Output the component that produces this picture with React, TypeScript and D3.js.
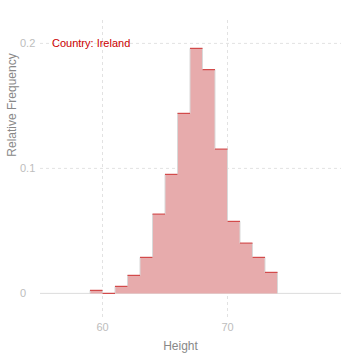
import React from "react";
import * as d3 from "d3";

const binStarts = [59, 60, 61, 62, 63, 64, 65, 66, 67, 68, 69, 70, 71, 72, 73];
const freqs = [0.0024, 0, 0.0056, 0.0144, 0.0288, 0.0634, 0.0952, 0.144, 0.196, 0.179, 0.1154, 0.0576, 0.0402, 0.0288, 0.0168];
const binWidth = 1;
const xTicks = [60, 70];
const yTicks = [0, 0.1, 0.2];
const yTickLabels = ["0", "0.1", "0.2"];
const title = "Country: Ireland";

export default function App() {
  const W = 359, H = 359;
  const x = d3.scaleLinear().domain([55, 79.08]).range([40, 341]);
  const y = d3.scaleLinear().domain([-0.0197, 0.2187]).range([318, 20]);
  const font = "'Liberation Sans', Arial, sans-serif";
  const area = d3
    .area<number>()
    .curve(d3.curveStepAfter)
    .x((_, i) => x(binStarts[0] + i * binWidth))
    .y0(y(0))
    .y1((d) => y(d));
  const areaData = [...freqs, freqs[freqs.length - 1]];
  return (
    <svg width={W} height={H} style={{ position: "absolute", left: 0, top: 0, background: "#fff" }}>
      {/* grid */}
      {xTicks.map((t) => (
        <line key={"gx" + t} x1={x(t)} x2={x(t)} y1={20} y2={318} stroke="#e2e2e2" strokeDasharray="3,3" />
      ))}
      {yTicks.slice(1).map((t) => (
        <line key={"gy" + t} x1={40} x2={341} y1={y(t)} y2={y(t)} stroke="#e2e2e2" strokeDasharray="3,3" />
      ))}
      <line x1={40} x2={341} y1={y(0)} y2={y(0)} stroke="#dcdcdc" />
      {/* bars as a single step area (no seams) */}
      <path d={area(areaData) || ""} fill="#e7abac" />
      {binStarts.map((b, i) => {
        const prev = i > 0 ? freqs[i - 1] : 0;
        const next = i < freqs.length - 1 ? freqs[i + 1] : 0;
        return (
          <g key={"e" + b}>
            {prev < freqs[i] && (
              <line x1={x(b)} x2={x(b)} y1={y(prev)} y2={y(freqs[i])} stroke="#d9d9d9" strokeWidth={1} />
            )}
            {next < freqs[i] && (
              <line x1={x(b + binWidth)} x2={x(b + binWidth)} y1={y(next)} y2={y(freqs[i])} stroke="#d9d9d9" strokeWidth={1} />
            )}
          </g>
        );
      })}
      {binStarts.map((b, i) => (
        <line key={"t" + b} x1={x(b)} x2={x(b + binWidth)} y1={y(freqs[i])} y2={y(freqs[i])} stroke="#d24b4b" strokeWidth={1.2} />
      ))}
      {/* tick labels */}
      {xTicks.map((t) => (
        <text key={"xt" + t} x={x(t)} y={331} textAnchor="middle" fontFamily={font} fontSize={11} fill="#bdbdbd">{t}</text>
      ))}
      {yTicks.map((t, i) => (
        <text key={"yt" + t} x={20} y={y(t) + 4} textAnchor="start" fontFamily={font} fontSize={11} fill="#bdbdbd">{yTickLabels[i]}</text>
      ))}
      {/* axis titles */}
      <text x={180.5} y={350} textAnchor="middle" fontFamily={font} fontSize={12} fill="#888">Height</text>
      <text transform="translate(16,105) rotate(-90)" textAnchor="middle" fontFamily={font} fontSize={12} fill="#888">Relative Frequency</text>
      <text x={52} y={47} fontFamily={font} fontSize={11} fill="#cc0000">{title}</text>
    </svg>
  );
}
